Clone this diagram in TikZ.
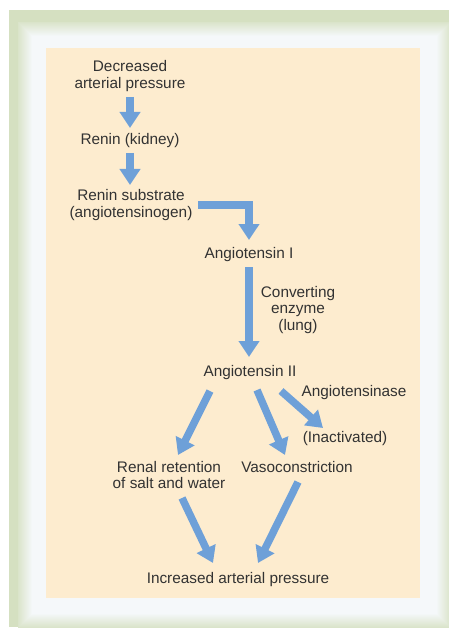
\documentclass[tikz,border=0pt]{standalone}
\usepackage{fontspec}
\setmainfont{Liberation Sans}
\usetikzlibrary{arrows.meta, calc}

\definecolor{framegreen}{RGB}{213,224,193}
\definecolor{glow}{RGB}{245,248,250}
\definecolor{cream}{RGB}{253,236,207}
\definecolor{flowblue}{RGB}{110,160,216}
\definecolor{txt}{RGB}{50,50,50}

\begin{document}
\begin{tikzpicture}[x=1bp, y=-1bp,
    term/.style={inner sep=0pt, align=center, text=txt, font=\fontsize{15.4}{17}\selectfont},
    flow/.style={-{Triangle[length=16bp, width=20bp]}, line width=7.5bp, draw=flowblue},
    elbow/.style={flow, line join=miter}
]
\useasboundingbox (0,0) rectangle (449,628);

% --- Frame ---
\fill[white] (0,0) rectangle (449,628);
\fill[framegreen] (9,10) rectangle (449,627);
\foreach \i in {14,...,0} {
    \pgfmathtruncatemacro{\mix}{100-6*\i}
    \fill[glow!\mix!framegreen] (32-\i,36-\i) rectangle (437+\i,614+\i);
}
\fill[cream] (46,48) rectangle (420,598);

% --- Terms ---
\node[term] (dec)    at (130,76)  {Decreased\\arterial pressure};
\node[term] (renin)  at (130,141) {Renin (kidney)};
\node[term] (subst)  at (131,205) {Renin substrate\\(angiotensinogen)};
\node[term] (ang1)   at (249,255) {Angiotensin I};
\node[term] (conv)   at (298,310) {Converting\\enzyme\\(lung)};
\node[term] (ang2)   at (250,373) {Angiotensin II};
\node[term] (ase)    at (354,393) {Angiotensinase};
\node[term] (inact)  at (345,439) {(Inactivated)};
\node[term] (renal)  at (169,475) {Renal retention\\of salt and water};
\node[term] (vaso)   at (297,467) {Vasoconstriction};
\node[term] (inc)    at (238,580) {Increased arterial pressure};

% --- Flow arrows ---
\draw[flow] ($(dec)+(0,21)$) -- ($(renin)+(0,-13)$);
\draw[flow] ($(renin)+(0,12)$) -- ($(subst)+(-1,-20)$);
\draw[elbow] ($(subst)+(67,0)$) -| ($(ang1)+(0,-15)$);
\draw[flow] ($(ang1)+(0,12)$) -- ($(ang2)+(-1,-16)$);

% Angiotensin II branches
\draw[flow] ($(ang2)+(-40,18)$) -- ($(renal)+(9,-20)$);
\draw[flow] ($(ang2)+(7,17)$) -- ($(vaso)+(-12,-12)$);
\draw[flow] ($(ang2)+(31,18)$) -- ($(inact)+(-22,-11)$);

% Into increased pressure
\draw[flow] ($(renal)+(13,23)$) -- ($(inc)+(-25,-17)$);
\draw[flow] ($(vaso)+(1,15)$) -- ($(inc)+(20,-17)$);

\end{tikzpicture}
\end{document}
